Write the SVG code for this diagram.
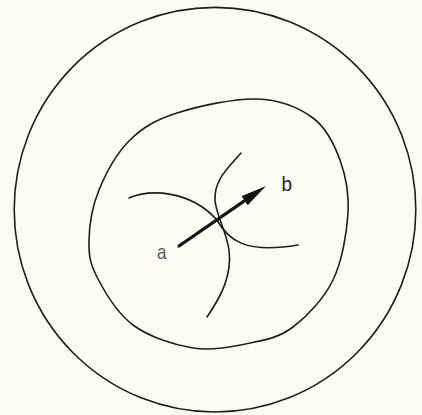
<svg xmlns="http://www.w3.org/2000/svg" width="422" height="415" viewBox="0 0 422 415">
  <style>
    .ln { fill: none; stroke: #1e1e1e; stroke-width: 1.6; stroke-linecap: round; }
    .arr { fill: none; stroke: #111; stroke-width: 3.2; stroke-linecap: round; }
    .lbl { font-family: "Liberation Sans", Arial, sans-serif; }
  </style>
  <defs>
    <marker id="head" markerUnits="userSpaceOnUse" markerWidth="26" markerHeight="11" refX="2" refY="5.5" orient="auto">
      <path d="M0,0 L26,5.5 L0,11 Z" fill="#111"/>
    </marker>
  </defs>
  <rect x="0" y="0" width="422" height="415" fill="#fcfcf2"/>
  <g id="outer">
    <ellipse cx="215" cy="209.7" rx="200.8" ry="202.3" class="ln"/>
  </g>
  <g id="inner">
    <path class="ln" d="M257,99 C279.7,99.8 299.2,107.8 313,118 C326.8,128.2 334.2,144.2 340,160 C345.8,175.8 349.2,193 348,213 C346.8,233 342.2,261 333,280 C323.8,299 306.8,316.5 293,327 C279.2,337.5 266.7,339.5 250,343 C233.3,346.5 212.5,351 193,348 C173.5,345 149,336.8 133,325 C117,313.2 104.3,291.2 97,277 C89.7,262.8 88.7,254.5 89,240 C89.3,225.5 92.2,206.7 99,190 C105.8,173.3 117,152.8 130,140 C143,127.2 155.8,119.8 177,113 C198.2,106.2 234.3,98.2 257,99 Z"/>
  </g>
  <g id="curves">
    <path class="ln" d="M129,198 C150,189 190,190 217,220 C228,240 245,254 298,245"/>
    <path class="ln" d="M241,153 C228,168 214,180 215,200 C216,215 226,230 229,250 C232,275 222,295 207,317"/>
  </g>
  <g id="connectors">
    <line class="arr" x1="179" y1="246" x2="246.2" y2="199.6" marker-end="url(#head)"/>
  </g>
  <g id="label-a">
    <text class="lbl" font-size="20" fill="#5a5a5a" transform="translate(157,259) scale(0.85,1)">a</text>
  </g>
  <g id="label-b">
    <text class="lbl" font-size="21" fill="#1e1e1e" transform="translate(281.5,191) scale(0.9,1)">b</text>
  </g>
</svg>
